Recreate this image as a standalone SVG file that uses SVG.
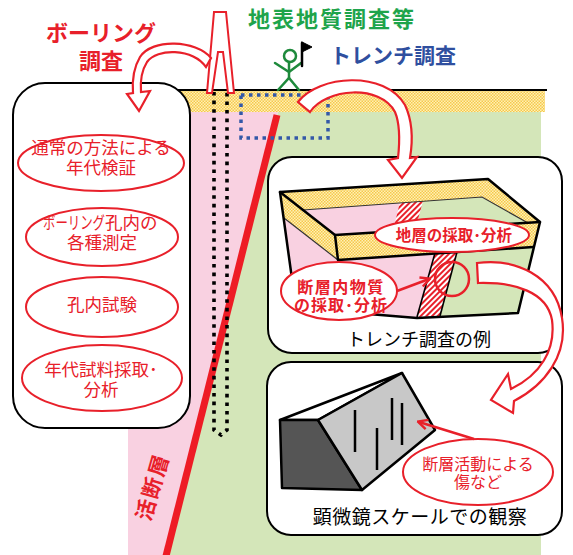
<svg xmlns="http://www.w3.org/2000/svg" width="573" height="555" viewBox="0 0 573 555">
  <defs>
    <style>
      .jp { font-family: 'Noto Sans CJK JP', 'Noto Sans', sans-serif; }
      .lbl { fill: #e8202a; font-size: 17.5px; text-anchor: middle; }
      .oval { fill: #fff; stroke: #e8202a; stroke-width: 2; }
      .box { fill: #fff; stroke: #000; stroke-width: 2; }
      .arrow { fill: #fff; stroke: #e8202a; stroke-width: 2.2; stroke-linejoin: miter; }
      .edge { fill: none; stroke: #000; stroke-width: 2.5; stroke-linejoin: round; stroke-linecap: round; }
      .thin { fill: none; stroke: #333; stroke-width: 1.2; }
      .pointer { fill: none; stroke: #e8202a; stroke-width: 2.5; }
    </style>
    <pattern id="soil" width="3" height="3" patternUnits="userSpaceOnUse">
      <rect width="3" height="3" fill="#fff1b5"/>
      <rect width="1.5" height="1.5" fill="#f6c84c"/>
      <rect x="1.5" y="1.5" width="1.5" height="1.5" fill="#f6c84c"/>
    </pattern>
    <pattern id="hatch" width="4" height="4" patternUnits="userSpaceOnUse" patternTransform="rotate(45)">
      <rect width="4" height="4" fill="#fff"/>
      <rect width="2" height="4" fill="#e8202a"/>
    </pattern>
    <marker id="vhead" viewBox="0 0 10 10" refX="8" refY="5" markerWidth="12" markerHeight="12" markerUnits="userSpaceOnUse" orient="auto">
      <path d="M1,1 L9,5 L1,9" fill="none" stroke="#e8202a" stroke-width="2"/>
    </marker>
  </defs>

  <!-- ground cross-section -->
  <g id="ground">
    <polygon points="128,112 278,112 166,555 128,555" fill="#f9d1e1"/>
    <polygon points="278,112 541,112 541,555 166,555" fill="#d4e6b9"/>
    <rect x="128" y="90" width="417" height="22" fill="url(#soil)"/>
    <line x1="128" y1="90" x2="547" y2="90" stroke="#000" stroke-width="2"/>
  </g>

  <!-- active fault -->
  <g id="fault">
    <line x1="277" y1="115" x2="166" y2="556" stroke="#ee1c25" stroke-width="7"/>
    <g transform="translate(153,487) rotate(-74)">
      <text class="jp" x="0" y="7" font-size="21" font-weight="bold" letter-spacing="2" fill="#e8202a" text-anchor="middle">活断層</text>
    </g>
  </g>

  <!-- borehole -->
  <g id="borehole">
    <path d="M214,92 V430 L221,435 L227,430 V92" fill="none" stroke="#000" stroke-width="3.6" stroke-dasharray="3.6 5"/>
  </g>

  <!-- trench outline in ground -->
  <g id="trench-area">
    <rect x="241" y="95" width="87" height="43" fill="none" stroke="#3358a8" stroke-width="3.5" stroke-dasharray="3.5 4.5"/>
  </g>

  <!-- drilling tower -->
  <g id="tower">
    <polygon points="207,93 214,12 226,12 234,93 228,93 223,52 218,52 212,93" fill="#fff" stroke="#e8202a" stroke-width="2"/>
  </g>

  <!-- surveyor with flag -->
  <g id="surveyor" fill="none" stroke="#1e8a3c" stroke-width="2.5" stroke-linecap="round">
    <circle cx="290" cy="56" r="6"/>
    <line x1="289" y1="62" x2="289" y2="78"/>
    <polyline points="275,63 289,72 301,63"/>
    <polyline points="278,90 289,78 299,90"/>
    <line x1="302" y1="43" x2="302" y2="66" stroke="#000"/>
    <polygon points="302,42 312,47 302,52" fill="#000" stroke="#000" stroke-width="1"/>
  </g>

  <!-- headings -->
  <g id="titles" class="jp" font-weight="bold">
    <text x="101" y="41" font-size="22" fill="#e8202a" text-anchor="middle">ボーリング<tspan x="101" dy="28">調査</tspan></text>
    <text x="248" y="27" font-size="22" letter-spacing="2" fill="#1ea44b">地表地質調査等</text>
    <text x="330" y="63" font-size="21" fill="#2f4f9f">トレンチ調査</text>
  </g>

  <!-- boring survey items -->
  <g id="boring-box">
    <rect class="box" x="13" y="83" width="177" height="345" rx="32"/>
    <g id="item-dating">
      <ellipse class="oval" cx="101" cy="163" rx="83" ry="28"/>
      <text class="jp lbl" x="101" y="154">通常の方法による<tspan x="101" dy="20">年代検証</tspan></text>
    </g>
    <g id="item-logging">
      <ellipse class="oval" cx="102" cy="237" rx="76" ry="29"/>
      <text class="jp" x="43" y="229" font-size="17.5" fill="#e8202a"><tspan textLength="62" lengthAdjust="spacingAndGlyphs">ボーリング</tspan><tspan x="105">孔内の</tspan><tspan x="102" dy="20" text-anchor="middle">各種測定</tspan></text>
    </g>
    <g id="item-test">
      <ellipse class="oval" cx="102" cy="307" rx="76" ry="30"/>
      <text class="jp lbl" x="102" y="311">孔内試験</text>
    </g>
    <g id="item-sample">
      <ellipse class="oval" cx="102" cy="378" rx="80" ry="33"/>
      <text class="jp lbl" x="101" y="376">年代試料採取･<tspan x="101" dy="20">分析</tspan></text>
    </g>
  </g>

  <!-- trench example -->
  <g id="trench-box">
    <rect class="box" x="268" y="157" width="294" height="196" rx="24"/>
    <polygon points="280,192 488,179 540,222 518,313 417,318 296,308" fill="#f9d1e1"/>
    <polygon points="423,201 482,197 528,223 414,234" fill="#d4e6b9"/>
    <polygon points="400,202 423,201 414,234 392,235" fill="url(#hatch)"/>
    <polygon points="457,252 533,247 518,313 440,316" fill="#d4e6b9"/>
    <polygon points="435,253 457,252 440,316 417,317" fill="url(#hatch)"/>
    <polygon points="280,192 488,179 482,197 303,210" fill="url(#soil)"/>
    <polygon points="488,179 540,222 528,223 482,197" fill="url(#soil)"/>
    <polygon points="280,192 335,235 338,260 284,218" fill="url(#soil)"/>
    <polygon points="335,235 540,222 533,247 338,260" fill="url(#soil)"/>
    <polyline class="thin" points="303,210 482,197 528,223"/>
    <line class="thin" x1="284" y1="218" x2="338" y2="260"/>
    <line x1="435" y1="253" x2="417" y2="317" stroke="#000" stroke-width="1.6"/>
    <line x1="457" y1="252" x2="440" y2="316" stroke="#000" stroke-width="1.6"/>
    <polygon class="edge" points="280,192 488,179 540,222 518,313 417,318 296,308"/>
    <line class="edge" x1="280" y1="192" x2="335" y2="235"/>
    <polyline class="edge" points="540,222 335,235 338,260 533,247"/>
    <circle cx="452" cy="279" r="17" fill="none" stroke="#e8202a" stroke-width="2.5"/>
    <g id="label-strata">
      <ellipse class="oval" cx="452" cy="235" rx="77" ry="17"/>
      <text class="jp" x="454" y="241" font-size="15.5" font-weight="bold" fill="#e8202a" text-anchor="middle">地層の採取･分析</text>
    </g>
    <g id="label-gouge">
      <ellipse class="oval" cx="339" cy="291" rx="58" ry="29"/>
      <text class="jp" x="341" y="293" font-size="16" font-weight="bold" letter-spacing="1.5" fill="#e8202a" text-anchor="middle">断層内物質<tspan x="341" dy="18" letter-spacing="1">の採取･分析</tspan></text>
    </g>
    <text class="jp" x="419" y="346" font-size="18" fill="#000" text-anchor="middle">トレンチ調査の例</text>
  </g>

  <!-- microscope scale observation -->
  <g id="micro-box">
    <rect class="box" x="267" y="362" width="295" height="173" rx="24"/>
    <polygon points="280,420 402,373 318,420" fill="#fff" stroke="#000" stroke-width="2.5" stroke-linejoin="round"/>
    <polygon points="280,420 318,420 362,490 282,488" fill="#555" stroke="#000" stroke-width="2.5" stroke-linejoin="round"/>
    <polygon points="318,420 402,373 435,430 362,490" fill="#c8c8c8" stroke="#000" stroke-width="2.5" stroke-linejoin="round"/>
    <g stroke="#000" stroke-width="2.5">
      <line x1="355" y1="410" x2="355" y2="452"/>
      <line x1="377" y1="428" x2="377" y2="470"/>
      <line x1="392" y1="398" x2="392" y2="440"/>
      <line x1="402" y1="403" x2="402" y2="445"/>
    </g>
    <g id="label-striation">
      <ellipse class="oval" cx="478" cy="472" rx="75" ry="33"/>
      <text class="jp" x="478" y="470" font-size="16" fill="#e8202a" text-anchor="middle">断層活動による<tspan x="478" dy="18">傷など</tspan></text>
    </g>
    <text class="jp" x="420" y="524" font-size="19" letter-spacing="0.5" fill="#000" text-anchor="middle">顕微鏡スケールでの観察</text>
  </g>

  <!-- connectors -->
  <g id="connectors">
    <path class="arrow" d="M211,58 C196,40 152,38 140,57 C134,67 132,80 133,93 L127,94 L139,111 L150,91 L141,92 C140,80 142,70 147,62 C157,48 192,48 206,67 Z"/>
    <path class="arrow" d="M298,102 C318,75 385,70 405,105 C412,120 413,140 410,158 L417,157 L402,178 L388,160 L398,158 C400,140 400,124 395,112 C380,84 326,88 310,112 Z"/>
    <path class="arrow" d="M477,263 C515,258 555,275 562,318 C568,355 545,385 514,401 L513,413 L491,400 L508,374 L511,389 C540,375 556,350 552,320 C547,292 515,282 478,283 Z"/>
    <line class="pointer" x1="397" y1="291" x2="429" y2="279" marker-end="url(#vhead)"/>
    <line class="pointer" x1="474" y1="439" x2="419" y2="422" marker-end="url(#vhead)"/>
  </g>
</svg>
